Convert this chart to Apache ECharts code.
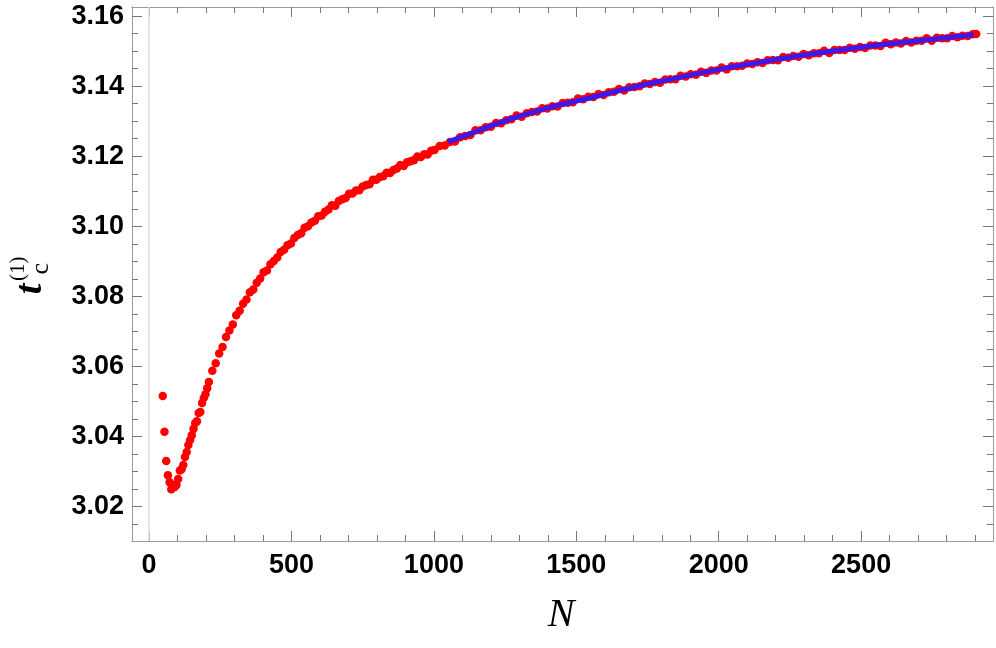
<!DOCTYPE html>
<html>
<head>
<meta charset="utf-8">
<script src="https://cdn.jsdelivr.net/npm/echarts@6/dist/echarts.min.js"></script>
<style>
  html, body { margin: 0; padding: 0; background: #fff; }
  #chart { width: 996px; height: 648px; }
</style>
</head>
<body>
<div id="chart"></div>
<script>
// red points, small N (step 6)
var nLow = [48, 54, 60, 66, 72, 78, 84, 90, 96, 102, 108, 114, 120, 126, 132, 138, 144, 150,
  156, 162, 168, 174, 180, 186, 192, 198, 204, 210];
var tLow = [3.0516, 3.0414, 3.0330, 3.0290, 3.0270, 3.0250, 3.0262, 3.0256, 3.0262, 3.0279,
  3.0303, 3.0307, 3.0319, 3.0342, 3.0356, 3.0376, 3.0390, 3.0404, 3.0422, 3.0439, 3.0444,
  3.0467, 3.0470, 3.0496, 3.0510, 3.0521, 3.0538, 3.0556];

// red points, middle N (step 12)
var nMid = [222, 234, 246, 258, 270, 282, 294, 306, 318, 330, 342, 354, 366, 378, 390, 402,
  414, 426, 438, 450, 462, 474, 486, 498, 510, 522, 534, 546, 558, 570, 582, 594, 606, 618,
  630, 642, 654, 666, 678, 690, 702, 714, 726, 738, 750, 762, 774, 786, 798, 810, 822, 834,
  846, 858, 870, 882, 894, 906, 918, 930, 942, 954, 966, 978, 990, 1002];
var tMid = [3.0588, 3.0609, 3.0637, 3.0656, 3.0684, 3.0703, 3.0720, 3.0746, 3.0759, 3.0779,
  3.0791, 3.0812, 3.0820, 3.0839, 3.0851, 3.0869, 3.0874, 3.0892, 3.0901, 3.0911, 3.0927,
  3.0933, 3.0946, 3.0951, 3.0967, 3.0975, 3.0980, 3.0996, 3.1000, 3.1011, 3.1016, 3.1029,
  3.1031, 3.1042, 3.1048, 3.1060, 3.1059, 3.1072, 3.1077, 3.1081, 3.1093, 3.1094, 3.1102,
  3.1103, 3.1114, 3.1118, 3.1120, 3.1133, 3.1133, 3.1141, 3.1143, 3.1153, 3.1152, 3.1161,
  3.1165, 3.1175, 3.1172, 3.1183, 3.1186, 3.1189, 3.1199, 3.1198, 3.1206, 3.1205, 3.1216,
  3.1218];

// red points, large N (step 18)
var nHigh = [1020, 1038, 1056, 1074, 1092, 1110, 1128, 1146, 1164, 1182, 1200, 1218, 1236,
  1254, 1272, 1290, 1308, 1326, 1344, 1362, 1380, 1398, 1416, 1434, 1452, 1470, 1488, 1506,
  1524, 1542, 1560, 1578, 1596, 1614, 1632, 1650, 1668, 1686, 1704, 1722, 1740, 1758, 1776,
  1794, 1812, 1830, 1848, 1866, 1884, 1902, 1920, 1938, 1956, 1974, 1992, 2010, 2028, 2046,
  2064, 2082, 2100, 2118, 2136, 2154, 2172, 2190, 2208, 2226, 2244, 2262, 2280, 2298, 2316,
  2334, 2352, 2370, 2388, 2406, 2424, 2442, 2460, 2478, 2496, 2514, 2532, 2550, 2568, 2586,
  2604, 2622, 2640, 2658, 2676, 2694, 2712, 2730, 2748, 2766, 2784, 2802, 2820, 2838, 2856,
  2874, 2892, 2904];
var tHigh = [3.1229, 3.1231, 3.1241, 3.1242, 3.1254, 3.1258, 3.1261, 3.1274, 3.1274, 3.1283,
  3.1284, 3.1295, 3.1294, 3.1303, 3.1306, 3.1316, 3.1313, 3.1323, 3.1326, 3.1328, 3.1337,
  3.1336, 3.1343, 3.1342, 3.1352, 3.1353, 3.1354, 3.1365, 3.1363, 3.1370, 3.1369, 3.1378,
  3.1375, 3.1383, 3.1384, 3.1392, 3.1388, 3.1397, 3.1398, 3.1400, 3.1408, 3.1406, 3.1412,
  3.1410, 3.1419, 3.1420, 3.1420, 3.1430, 3.1428, 3.1434, 3.1433, 3.1441, 3.1438, 3.1445,
  3.1445, 3.1453, 3.1448, 3.1457, 3.1457, 3.1458, 3.1465, 3.1463, 3.1468, 3.1466, 3.1474,
  3.1475, 3.1474, 3.1483, 3.1481, 3.1486, 3.1484, 3.1492, 3.1488, 3.1494, 3.1494, 3.1501,
  3.1495, 3.1503, 3.1503, 3.1503, 3.1510, 3.1507, 3.1512, 3.1509, 3.1516, 3.1516, 3.1515,
  3.1524, 3.1520, 3.1525, 3.1522, 3.1529, 3.1525, 3.1530, 3.1530, 3.1537, 3.1530, 3.1538,
  3.1537, 3.1537, 3.1543, 3.1540, 3.1544, 3.1543, 3.1548, 3.1549];

// blue fit curve
var nFit = [1050, 1150, 1250, 1400, 1550, 1700, 1850, 2000, 2150, 2300, 2450, 2600, 2750, 2895];
var tFit = [3.1241, 3.1271, 3.1301, 3.1338, 3.1367, 3.1397, 3.1423, 3.1448, 3.1469, 3.1489,
  3.1506, 3.1521, 3.1534, 3.1547];

// ticks
var xMajor = [0, 500, 1000, 1500, 2000, 2500];
var xMinor = [100, 200, 300, 400, 600, 700, 800, 900, 1100, 1200, 1300, 1400, 1600, 1700,
  1800, 1900, 2100, 2200, 2300, 2400, 2600, 2700, 2800, 2900];
var yMajor = [3.02, 3.04, 3.06, 3.08, 3.10, 3.12, 3.14, 3.16];
var yMinor = [3.015, 3.025, 3.03, 3.035, 3.045, 3.05, 3.055, 3.065, 3.07, 3.075, 3.085, 3.09,
  3.095, 3.105, 3.11, 3.115, 3.125, 3.13, 3.135, 3.145, 3.15, 3.155];

var X_MIN = -60, X_MAX = 2963, Y_MIN = 3.0102, Y_MAX = 3.1626;

function pairs(xs, ys) {
    var out = [];
    for (var i = 0; i < xs.length; i++) out.push([xs[i], ys[i]]);
    return out;
}
var redData = pairs(nLow, tLow).concat(pairs(nMid, tMid), pairs(nHigh, tHigh));
var blueData = pairs(nFit, tFit);

var frameColor = '#9a9a9a';
var tickColor = '#777';
var serif = '"Liberation Serif", "DejaVu Serif", serif';
var labelFont = { color: '#000', fontSize: 27, fontWeight: 'bold', fontFamily: '"Liberation Sans", Arial, sans-serif' };

function xAx(pos, ticks, len, withLabel) {
    return {
        type: 'value', position: pos, min: X_MIN, max: X_MAX,
        axisLine: { show: true, onZero: false, lineStyle: { color: frameColor, width: 1 } },
        axisTick: { show: true, inside: true, length: len, customValues: ticks, lineStyle: { color: tickColor } },
        axisLabel: Object.assign({
            show: withLabel, customValues: ticks, margin: 11,
            formatter: function (v) { return String(v); }
        }, labelFont),
        splitLine: { show: false }
    };
}
function yAx(pos, ticks, len, withLabel) {
    return {
        type: 'value', position: pos, min: Y_MIN, max: Y_MAX,
        axisLine: { show: true, onZero: false, lineStyle: { color: frameColor, width: 1 } },
        axisTick: { show: true, inside: true, length: len, customValues: ticks, lineStyle: { color: tickColor } },
        axisLabel: Object.assign({
            show: withLabel, customValues: ticks, margin: 8,
            formatter: function (v) { return v.toFixed(2); }
        }, labelFont),
        splitLine: { show: false }
    };
}

// t with subscript c on one axis name, superscript (1) on another, same widths so they line up
var tStyle = { fontFamily: serif, fontStyle: 'italic', fontWeight: 'bold', fontSize: 38, lineHeight: 46, color: '#000' };
var yTitleLow = {
    name: '{t|t}{c|c}',
    nameLocation: 'middle', nameRotate: 90, nameGap: 78,
    nameTextStyle: {
        rich: {
            t: tStyle,
            c: { fontFamily: serif, fontSize: 26, lineHeight: 26, width: 30, align: 'left', verticalAlign: 'bottom', color: '#000' }
        }
    }
};
var yTitleHigh = {
    name: '{t|t}{s|(1)}',
    nameLocation: 'middle', nameRotate: 90, nameGap: 78,
    nameTextStyle: {
        rich: {
            t: Object.assign({}, tStyle, { color: 'rgba(0,0,0,0)' }),
            s: { fontFamily: serif, fontSize: 21, lineHeight: 21, width: 30, align: 'left', verticalAlign: 'top', color: '#000' }
        }
    }
};

var chart = echarts.init(document.getElementById('chart'));
chart.setOption({
    animation: false,
    backgroundColor: '#fff',
    grid: { left: 130, right: 3, top: 7, bottom: 107 },
    xAxis: [
        xAx('bottom', xMajor, 10, true),
        xAx('bottom', xMinor, 6, false),
        xAx('top', xMajor, 10, false),
        xAx('top', xMinor, 6, false)
    ],
    yAxis: [
        Object.assign(yAx('left', yMajor, 10, true), yTitleLow),
        Object.assign(yAx('left', yMinor, 6, false), yTitleHigh),
        yAx('right', yMajor, 10, false),
        yAx('right', yMinor, 6, false)
    ],
    series: [
        {
            type: 'scatter',
            data: redData,
            symbolSize: 8.5,
            itemStyle: { color: '#ff0000', opacity: 1 },
            markLine: { // x = 0 axis line
                silent: true,
                symbol: ['none', 'none'],
                label: { show: false },
                lineStyle: { color: '#dcdcdc', type: 'solid', width: 1.5 },
                data: [{ xAxis: 0 }]
            }
        },
        {
            type: 'line',
            data: blueData,
            smooth: true,
            showSymbol: false,
            lineStyle: { color: '#3f17e6', width: 5 },
            z: 3
        }
    ],
    graphic: [
        {
            type: 'text', x: 561, y: 615,
            style: { text: 'N', font: 'italic 40px ' + serif, fill: '#000', align: 'center', verticalAlign: 'middle' }
        }
    ]
});
</script>
</body>
</html>
